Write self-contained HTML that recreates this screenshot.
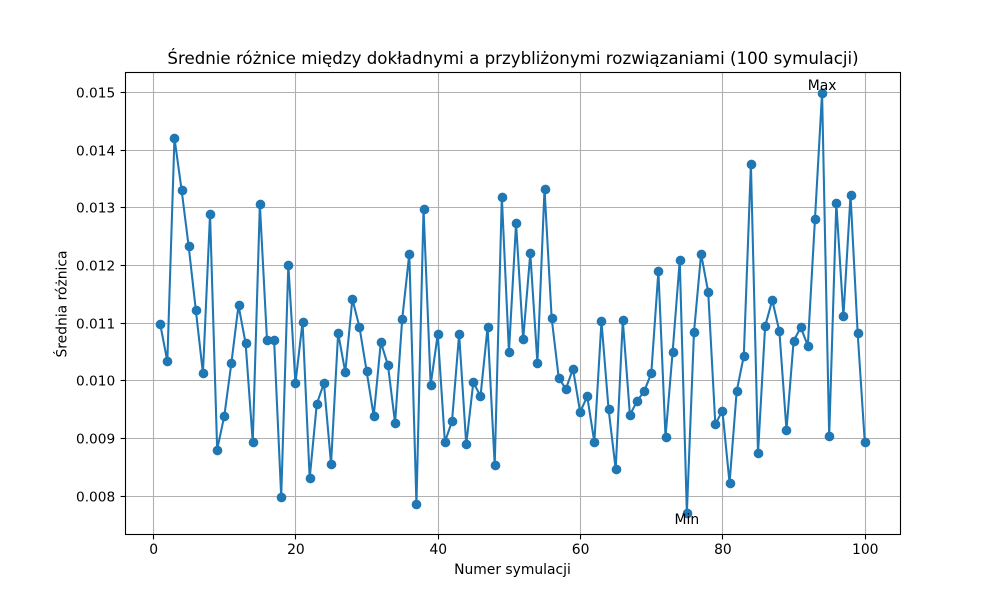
<!DOCTYPE html>
<html lang="pl">
<head>
<meta charset="utf-8">
<title>Średnie różnice</title>
<style>
html,body{margin:0;padding:0;background:#fff;}
svg{display:block;}
text{font-family:"DejaVu Sans",sans-serif;fill:#000;}
</style>
</head>
<body>
<svg id="chart" width="1000" height="600" viewBox="0 0 1000 600" xmlns="http://www.w3.org/2000/svg">
  <rect x="0" y="0" width="1000" height="600" fill="#ffffff"/>
  <g id="grid"></g>
  <g id="series"></g>
  <g id="notes"></g>
  <rect x="125.5" y="72.5" width="775" height="462" fill="none" stroke="#000" stroke-width="1.1"/>
  <g id="ticks"></g>
  <text x="513" y="64" text-anchor="middle" font-size="16.65">Średnie różnice między dokładnymi a przybliżonymi rozwiązaniami (100 symulacji)</text>
  <text x="512.5" y="574" text-anchor="middle" font-size="13.89">Numer symulacji</text>
  <text transform="translate(66.5 304) rotate(-90)" text-anchor="middle" font-size="13.89">Średnia różnica</text>
</svg>
<script>
const simulations = [1,2,3,4,5,6,7,8,9,10,11,12,13,14,15,16,17,18,19,20,21,22,23,24,25,26,27,28,29,30,31,32,33,34,35,36,37,38,39,40,41,42,43,44,45,46,47,48,49,50,51,52,53,54,55,56,57,58,59,60,61,62,63,64,65,66,67,68,69,70,71,72,73,74,75,76,77,78,79,80,81,82,83,84,85,86,87,88,89,90,91,92,93,94,95,96,97,98,99,100];
const meanDifferences = [
  0.01097,0.01033,0.01420,0.01330,0.01232,0.01122,0.01012,0.01288,0.00880,0.00938,
  0.01030,0.01130,0.01064,0.00893,0.01305,0.01070,0.01070,0.00798,0.01200,0.00995,
  0.01101,0.00830,0.00959,0.00995,0.00855,0.01082,0.01014,0.01141,0.01092,0.01016,
  0.00938,0.01066,0.01026,0.00926,0.01106,0.01219,0.00785,0.01297,0.00992,0.01080,
  0.00893,0.00929,0.01080,0.00889,0.00997,0.00972,0.01092,0.00853,0.01318,0.01049,
  0.01272,0.01071,0.01220,0.01030,0.01332,0.01108,0.01004,0.00985,0.01020,0.00945,
  0.00972,0.00893,0.01102,0.00950,0.00846,0.01104,0.00940,0.00964,0.00981,0.01012,
  0.01189,0.00902,0.01049,0.01208,0.00770,0.01083,0.01219,0.01153,0.00924,0.00947,
  0.00822,0.00981,0.01042,0.01375,0.00874,0.01094,0.01139,0.01085,0.00914,0.01068,
  0.01092,0.01060,0.01279,0.01498,0.00903,0.01307,0.01111,0.01321,0.01082,0.00893
];
const xTicks = [0,20,40,60,80,100];
const yTicks = [0.008,0.009,0.010,0.011,0.012,0.013,0.014,0.015];
const yTickLabels = ["0.008","0.009","0.010","0.011","0.012","0.013","0.014","0.015"];

const NS = "http://www.w3.org/2000/svg";
const plot = {left:125, right:900, top:72, bottom:534};
const xLo = Math.min(...simulations), xHi = Math.max(...simulations);
const yLo = Math.min(...meanDifferences), yHi = Math.max(...meanDifferences);
const xPad = (xHi - xLo) * 0.05, yPad = (yHi - yLo) * 0.05;
function xScale(v){
  return plot.left + (v - (xLo - xPad)) / ((xHi + xPad) - (xLo - xPad)) * (plot.right - plot.left);
}
function yScale(v){
  return plot.bottom - (v - (yLo - yPad)) / ((yHi + yPad) - (yLo - yPad)) * (plot.bottom - plot.top);
}
function make(tag, parent, props){
  const el = document.createElementNS(NS, tag);
  for (const k in props) el.setAttribute(k, props[k]);
  parent.appendChild(el);
  return el;
}
const grid = document.getElementById("grid");
const ticks = document.getElementById("ticks");
const series = document.getElementById("series");
const notes = document.getElementById("notes");

xTicks.forEach(function(t){
  const x = Math.round(xScale(t)) + 0.5;
  const g = make("line", grid, {x1:x, x2:x, y1:plot.top, y2:plot.bottom, stroke:"#b0b0b0", "stroke-width":1.1});
  
  
  const m = make("line", ticks, {x1:x, x2:x, y1:plot.bottom + 0.5, y2:plot.bottom + 5.4, stroke:"#000", "stroke-width":1.1});
  
  
  const l = make("text", ticks, {x:xScale(t) + 0.5, y:554, "text-anchor":"middle", "font-size":13.89});
  
  
  l.textContent = String(t);
});
yTicks.forEach(function(t, i){
  const y = Math.round(yScale(t)) + 0.5;
  const g = make("line", grid, {x1:plot.left, x2:plot.right, y1:y, y2:y, stroke:"#b0b0b0", "stroke-width":1.1});
  
  
  const m = make("line", ticks, {x1:plot.left + 0.5, x2:plot.left - 4.4, y1:y, y2:y, stroke:"#000", "stroke-width":1.1});
  
  
  const l = make("text", ticks, {x:115.2, y:y + 4.8, "text-anchor":"end", "font-size":13.7});
  
  
  l.textContent = yTickLabels[i];
});

const points = simulations.map(function(s, i){
  return xScale(s).toFixed(2) + "," + yScale(meanDifferences[i]).toFixed(2);
}).join(" ");
const line = make("polyline", series, {points:points, fill:"none", stroke:"#1f77b4", "stroke-width":2.08, "stroke-linejoin":"round"});


simulations.forEach(function(s, i){
  const c = make("circle", series, {cx:Math.round(xScale(s)) + 0.5, cy:Math.round(yScale(meanDifferences[i])) + 0.5, r:4.86, fill:"#1f77b4"});
  
  
});

const iMax = meanDifferences.indexOf(yHi);
const iMin = meanDifferences.indexOf(yLo);
const maxLabel = make("text", notes, {x:xScale(simulations[iMax]), y:yScale(yHi) - 3, "text-anchor":"middle", "font-size":13.89});


maxLabel.textContent = "Max";
const minLabel = make("text", notes, {x:xScale(simulations[iMin]), y:yScale(yLo) + 11, "text-anchor":"middle", "font-size":13.89});


minLabel.textContent = "Min";
</script>
</body>
</html>
